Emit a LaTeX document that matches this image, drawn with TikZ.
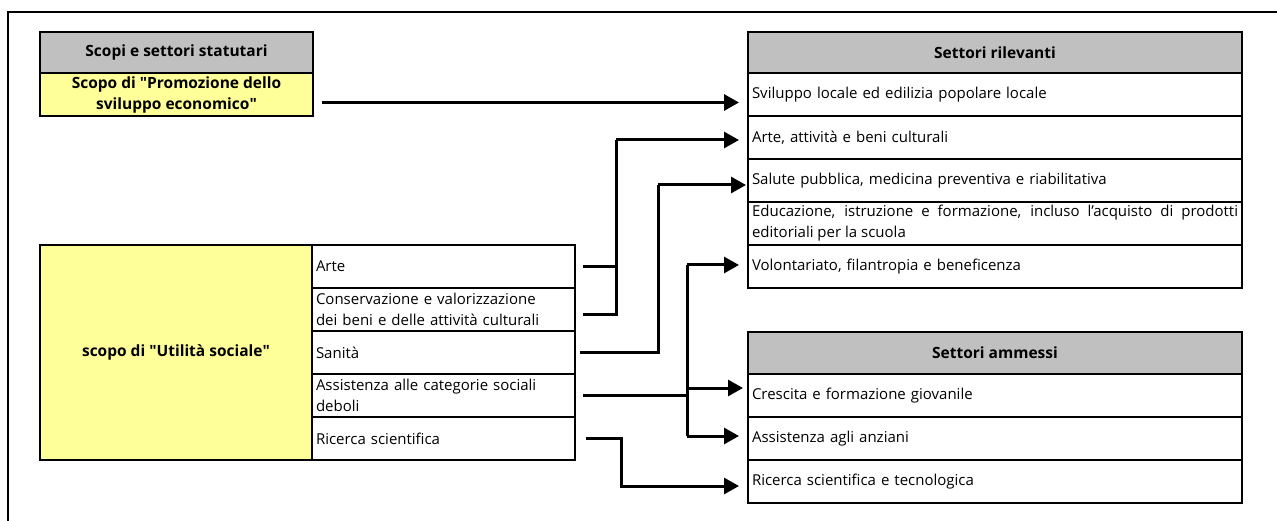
\documentclass[tikz,border=0pt]{standalone}
\usepackage{fontspec}
\setmainfont{Open Sans}
\usepackage{xcolor}
\usetikzlibrary{arrows.meta,positioning}

\definecolor{hdrgray}{HTML}{C0C0C0}
\definecolor{cellyellow}{HTML}{FFFF99}

\tikzset{
	box/.style={draw, line width=1.5pt, outer sep=0pt, inner sep=0pt},
	hdr/.style={box, fill=hdrgray, font=\fontsize{15.5}{21}\selectfont\bfseries},
	ybox/.style={box, fill=cellyellow, align=center, font=\fontsize{15.5}{21}\selectfont\bfseries},
	cell/.style={box, fill=white, align=left, inner xsep=4pt, minimum height=43pt, font=\fontsize{15}{21}\selectfont},
	rcell/.style={cell, text width=486pt},
	lcell/.style={cell, text width=255pt},
	link/.style={line width=3pt},
	arr/.style={link, -{Triangle[length=15pt,width=16pt]}}
}

\begin{document}
\begin{tikzpicture}[x=1pt, y=-1pt, node distance=0pt]
	\useasboundingbox (0,0) rectangle (1277,521);
	% Frame
	\draw[line width=2pt] (8,521) |- (1277,12);
	% Scopi e settori statutari
	\node[hdr, minimum width=273pt, minimum height=41pt, anchor=north west] (scopi) at (40,32) {Scopi e settori statutari};
	\node[ybox, minimum width=273pt, minimum height=43pt, below=of scopi] (promo) {Scopo di \textquotedbl Promozione dello\\sviluppo economico\textquotedbl};
	% Utilita' sociale
	\node[ybox, minimum width=272pt, minimum height=215pt, anchor=north west] (utile) at (40,245) {scopo di \textquotedbl Utilità sociale\textquotedbl};
	\node[lcell, anchor=north west] (sarte) at (utile.north east) {Arte};
	\node[lcell, below=of sarte] (scons) {Conservazione e valorizzazione\\dei beni e delle attività culturali};
	\node[lcell, below=of scons] (ssan) {Sanità};
	\node[lcell, below=of ssan] (sass) {Assistenza alle categorie sociali\\deboli};
	\node[lcell, below=of sass] (sric) {Ricerca scientifica};
	% Settori rilevanti
	\node[hdr, minimum width=494pt, minimum height=41pt, anchor=north west] (rilev) at (748,32) {Settori rilevanti};
	\node[rcell, below=of rilev] (rsvil) {Sviluppo locale ed edilizia popolare locale};
	\node[rcell, below=of rsvil] (rarte) {Arte, attività e beni culturali};
	\node[rcell, below=of rarte] (rsal) {Salute pubblica, medicina preventiva e riabilitativa};
	\node[rcell, align=justify, below=of rsal] (redu) {Educazione, istruzione e formazione, incluso l’acquisto di prodotti \mbox{editoriali} per la scuola};
	\node[rcell, below=of redu] (rvol) {Volontariato, filantropia e beneficenza};
	% Settori ammessi
	\node[hdr, minimum width=494pt, minimum height=42pt, anchor=north west] (ammessi) at (748,332) {Settori ammessi};
	\node[rcell, below=of ammessi] (acre) {Crescita e formazione giovanile};
	\node[rcell, below=of acre] (aanz) {Assistenza agli anziani};
	\node[rcell, below=of aanz] (aric) {Ricerca scientifica e tecnologica};
	% Promozione -> sviluppo locale
	\draw[arr] ([xshift=9pt,yshift=-8pt]promo.east) -- ([xshift=-9pt,yshift=-8pt]rsvil.west);
	% Arte, conservazione -> arte e beni culturali
	\coordinate (ja) at (616,140);
	\draw[link] ([xshift=8pt]sarte.east) -| (ja);
	\draw[link] ([xshift=8pt,yshift=-5pt]scons.east) -| (ja);
	\draw[arr] (ja) -- ([xshift=-9pt]rarte.west |- ja);
	% Sanita' -> salute pubblica
	\coordinate (js) at (658,185);
	\draw[link] ([xshift=5pt]ssan.east) -| (js);
	\draw[arr] (js) -- ([xshift=-2pt]rsal.west |- js);
	% Assistenza -> volontariato, crescita, anziani
	\coordinate (jv) at (687,265);
	\coordinate (jc) at (687,388);
	\coordinate (jn) at (687,436);
	\draw[link] ([xshift=8pt]sass.east) -- (sass.east -| jv);
	\draw[link] (jv) -- (jn);
	\draw[arr] (jv) -- ([xshift=-9pt]rvol.west |- jv);
	\draw[arr] (jc) -- ([xshift=-5pt]acre.west |- jc);
	\draw[arr] (jn) -- ([xshift=-9pt]aanz.west |- jn);
	% Ricerca -> ricerca e tecnologica
	\coordinate (jr) at (621,486);
	\draw[arr] ([xshift=11pt]sric.east) -| (jr) -- ([xshift=-9pt]aric.west |- jr);
\end{tikzpicture}
\end{document}
